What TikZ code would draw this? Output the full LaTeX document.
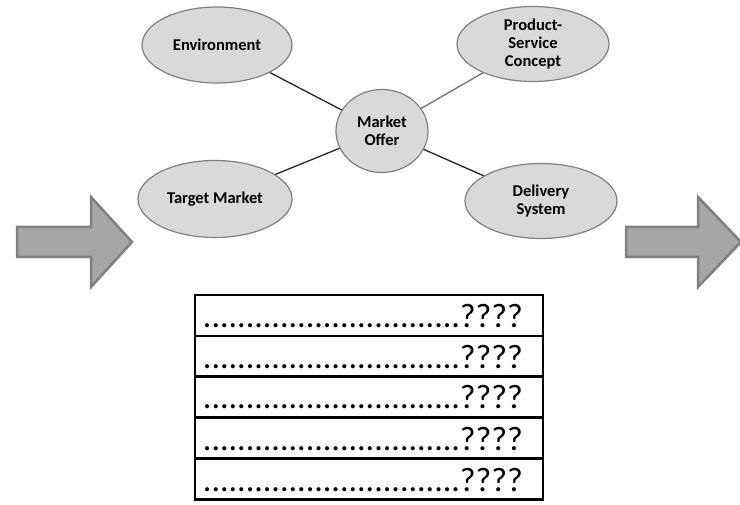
\documentclass[tikz,border=0pt]{standalone}
\usepackage{fontspec}
\setmainfont{Carlito}
\usetikzlibrary{shapes.geometric}
\begin{document}
\begin{tikzpicture}[x=1pt,y=-1pt,
  oval/.style={ellipse, draw=black!50, line width=1.2pt, fill=black!15, inner sep=0pt,
     font=\fontsize{16.5}{18}\selectfont\bfseries, align=center},
  link/.style={line width=1.3pt, draw=black!85},
  bigarrow/.style={draw=black!50, fill=black!35, line width=2.5pt, line join=miter},
  rowbox/.style={draw=black, line width=2.5pt, minimum width=348pt, minimum height=41pt,
     inner sep=0pt},
  rowtext/.style={anchor=base west, inner sep=0pt, font=\fontsize{34}{36}\selectfont},
]
\useasboundingbox (0,0) rectangle (740,505);
\fill[white] (0,0) rectangle (740,505);
% connectors first (behind nodes)
\coordinate (cM) at (382,131);
\coordinate (cE) at (217,45);
\coordinate (cP) at (533,44);
\coordinate (cT) at (215,199);
\coordinate (cD) at (541,201);
\draw[link] (cE) -- (cM);
\draw[link, draw=black!55] (cP) -- (cM);
\draw[link] (cT) -- (cM);
\draw[link] (cD) -- (cM);
\node[oval, minimum width=150pt, minimum height=76pt] (env) at (cE) {Environment};
\node[oval, minimum width=152pt, minimum height=75pt] (psc) at (cP) {Product-\\Service\\Concept};
\node[oval, minimum width=154pt, minimum height=77pt] (tm) at (cT) {Target Market};
\node[oval, minimum width=152pt, minimum height=75pt] (ds) at (cD) {Delivery\\System};
\node[oval, minimum width=92pt, minimum height=83pt] (mo) at (cM) {Market\\Offer};
% big arrows
\draw[bigarrow] (17,227) -- (91,227) -- (91,197) -- (132,242) -- (91,287) -- (91,257) -- (17,257) -- cycle;
\draw[bigarrow] (626,227) -- (698,227) -- (698,197) -- (741,242) -- (698,287) -- (698,257) -- (626,257) -- cycle;
% table rows
\foreach \i/\y in {1/315.5, 2/356.5, 3/397, 4/438, 5/479} {
  \node[rowbox] (row\i) at (369,\y) {};
  \node[rowtext] (txt\i) at ([xshift=9pt, yshift=-12pt]row\i.west) {..............................????};
}
\end{tikzpicture}
\end{document}
